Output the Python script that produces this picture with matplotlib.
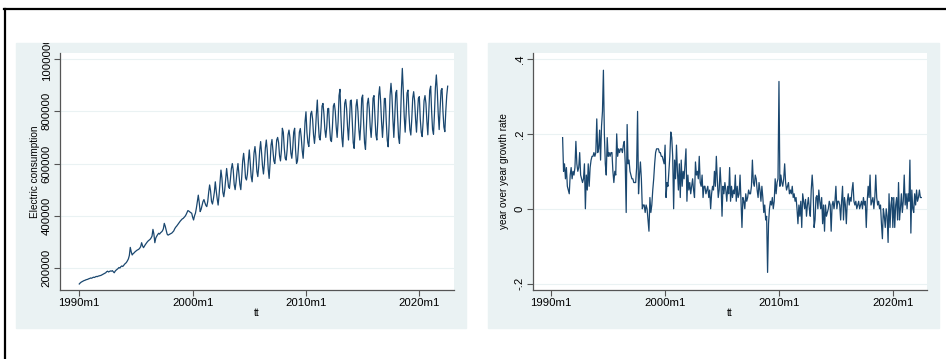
import numpy as np
import matplotlib
matplotlib.use("Agg")
import matplotlib.pyplot as plt
from matplotlib.patches import Rectangle
from matplotlib.lines import Line2D
from matplotlib.transforms import Bbox, TransformedBbox

# monthly electric consumption (thousands), 1990m1 .. 2022m7, one row per year
consumption_k = [
    139, 143, 146, 148, 150, 152, 153, 155, 156, 157, 159, 160,
    162, 161, 163, 165, 164, 166, 168, 167, 169, 170, 171, 172,
    174, 176, 178, 180, 182, 186, 188, 185, 187, 189, 188, 190,
    186, 182, 188, 192, 195, 198, 202, 200, 205, 208, 206, 210,
    215, 218, 222, 228, 235, 248, 279, 262, 250, 255, 258, 262,
    265, 268, 270, 272, 276, 282, 297, 285, 278, 284, 290, 295,
    300, 304, 307, 310, 315, 322, 348, 330, 297, 315, 322, 328,
    333, 330, 335, 338, 342, 350, 371, 360, 345, 330, 326, 328,
    330, 332, 334, 338, 342, 350, 356, 360, 365, 370, 375, 380,
    384, 388, 390, 394, 398, 404, 412, 420, 418, 415, 412, 410,
    395, 384, 400, 410, 430, 455, 479, 450, 416, 425, 440, 455,
    462, 450, 440, 435, 455, 490, 518, 495, 455, 445, 465, 490,
    530, 495, 465, 441, 480, 530, 575, 545, 490, 473, 500, 540,
    581, 545, 511, 505, 540, 580, 600, 575, 520, 500, 530, 570,
    600, 560, 520, 500, 550, 610, 639, 600, 545, 537, 560, 610,
    652, 600, 550, 530, 580, 640, 665, 630, 570, 550, 590, 650,
    684, 640, 590, 560, 600, 660, 690, 650, 580, 543, 600, 670,
    692, 650, 610, 600, 640, 690, 700, 680, 630, 610, 650, 735,
    720, 660, 620, 613, 650, 710, 728, 700, 640, 620, 660, 720,
    735, 650, 600, 610, 660, 720, 734, 700, 650, 620, 680, 760,
    798, 720, 680, 665, 720, 790, 800, 770, 710, 677, 720, 790,
    843, 760, 700, 690, 740, 820, 830, 790, 730, 700, 740, 810,
    811, 740, 690, 684, 740, 820, 830, 800, 740, 700, 760, 860,
    884, 780, 700, 664, 740, 830, 845, 810, 740, 690, 760, 840,
    843, 760, 680, 658, 730, 820, 845, 800, 730, 690, 750, 850,
    862, 760, 680, 654, 740, 830, 850, 810, 740, 700, 760, 850,
    860, 780, 710, 690, 760, 860, 894, 840, 760, 700, 760, 849,
    849, 760, 690, 664, 750, 860, 907, 860, 770, 700, 780, 870,
    880, 780, 700, 677, 760, 880, 964, 880, 780, 720, 790, 870,
    881, 790, 730, 709, 770, 850, 875, 840, 770, 720, 790, 850,
    856, 770, 720, 703, 760, 840, 860, 830, 760, 710, 800, 880,
    896, 800, 730, 712, 790, 890, 939, 880, 790, 730, 810, 880,
    887, 800, 740, 722, 800, 860, 896,
]

# year over year growth rate, 1991m1 .. 2022m7
growth = [
    0.19, 0.10, 0.12, 0.08, 0.11, 0.06, 0.05, 0.04, 0.09, 0.11, 0.08, 0.10,
    0.09, 0.11, 0.18, 0.12, 0.10, 0.11, 0.15, 0.09, 0.08, 0.07, 0.08, 0.12,
    0.00, 0.09, 0.05, 0.12, 0.06, 0.11, 0.13, 0.14, 0.14, 0.15, 0.14, 0.15,
    0.24, 0.15, 0.16, 0.21, 0.13, 0.22, 0.26, 0.37, 0.20, 0.12, 0.09, 0.19,
    0.14, 0.15, 0.14, 0.15, 0.15, 0.10, 0.07, 0.10, 0.09, 0.20, 0.14, 0.16,
    0.15, 0.16, 0.16, 0.15, 0.17, 0.18, 0.12, -0.01, 0.225, 0.12, 0.13, 0.10,
    0.09, 0.08, 0.08, 0.07, 0.07, 0.07, 0.11, 0.26, 0.04, 0.09, 0.125, 0.08,
    0.00, 0.01, 0.01, -0.01, 0.01, 0.00, -0.03, -0.06, 0.03, -0.01, 0.01, 0.05,
    0.08, 0.12, 0.15, 0.16, 0.16, 0.16, 0.15, 0.15, 0.14, 0.14, 0.13, 0.12,
    0.17, 0.03, 0.07, 0.06, 0.10, 0.14, 0.205, 0.19, 0.14, 0.00, 0.13, 0.08,
    0.17, 0.10, 0.05, 0.12, 0.03, 0.13, 0.06, 0.10, 0.08, 0.12, 0.16, 0.02,
    0.09, 0.05, 0.07, 0.04, 0.06, 0.08, 0.05, 0.03, 0.125, 0.09, 0.10, 0.08,
    0.14, 0.07, 0.06, 0.09, 0.03, 0.06, 0.06, 0.04, 0.05, 0.06, 0.03, 0.05,
    0.00, 0.04, 0.06, 0.05, 0.10, 0.06, 0.14, 0.08, 0.03, 0.05, 0.11, 0.06,
    -0.02, 0.06, 0.04, 0.07, 0.05, 0.02, 0.06, 0.04, 0.11, 0.02, 0.06, 0.03,
    0.05, 0.04, 0.09, 0.02, 0.06, 0.03, 0.04, 0.09, 0.02, -0.05, 0.03, 0.02,
    0.00, 0.04, 0.02, 0.03, 0.05, 0.04, 0.04, 0.06, 0.13, 0.07, 0.06, 0.09,
    0.08, 0.05, 0.03, 0.07, 0.05, 0.02, 0.06, 0.03, -0.01, 0.01, -0.03, -0.02,
    -0.17, -0.04, 0.00, 0.02, 0.01, 0.03, 0.00, 0.02, 0.08, 0.04, 0.07, 0.08,
    0.34, 0.06, 0.09, 0.07, 0.06, 0.08, 0.12, 0.07, 0.05, 0.06, 0.07, 0.04,
    0.05, 0.04, 0.06, 0.03, 0.04, 0.02, 0.03, 0.00, -0.04, 0.01, -0.02, 0.02,
    -0.05, 0.04, 0.02, 0.00, 0.025, -0.02, 0.01, 0.03, 0.00, -0.02, 0.05, 0.09,
    0.05, -0.05, -0.03, 0.03, 0.035, 0.00, 0.05, 0.02, 0.00, 0.03, -0.04, 0.01,
    -0.06, 0.01, -0.02, -0.01, 0.00, 0.02, 0.01, -0.06, 0.01, 0.02, 0.00, 0.02,
    0.06, 0.00, 0.02, 0.02, 0.01, -0.03, 0.02, 0.06, -0.03, 0.03, 0.01, -0.04,
    0.02, 0.04, 0.01, 0.03, 0.02, 0.05, 0.07, 0.02, 0.01, 0.02, 0.00, 0.01,
    0.02, 0.00, 0.01, 0.02, 0.00, 0.03, 0.01, 0.02, -0.05, 0.02, 0.06, 0.03,
    0.09, 0.01, 0.02, 0.03, 0.00, 0.03, 0.09, 0.03, 0.01, 0.02, 0.00, 0.01,
    -0.04, -0.08, 0.00, -0.02, -0.05, 0.00, -0.02, -0.09, 0.04, -0.05, 0.01, 0.03,
    -0.05, 0.03, -0.05, 0.01, 0.03, -0.03, 0.07, -0.03, 0.00, 0.04, -0.01, 0.02,
    0.09, 0.01, 0.04, 0.00, 0.04, 0.02, 0.13, -0.065, 0.05, 0.00, -0.01, 0.04,
    0.01, 0.05, 0.02, 0.03, 0.05, 0.03, 0.03,
]

# Stata monthly dates (months since 1960m1)
tt_level = 360 + np.arange(len(consumption_k))   # from 1990m1
tt_growth = 372 + np.arange(len(growth))         # from 1991m1
xticks = [360, 480, 600, 720]
xtick_labels = ["1990m1", "2000m1", "2010m1", "2020m1"]
yticks_level = [200000, 400000, 600000, 800000, 1000000]
yticks_growth = [-0.2, 0, 0.2, 0.4]
ytick_labels_growth = ["-.2", "0", ".2", ".4"]

plt.rcParams['font.family'] = ['Liberation Sans', 'DejaVu Sans']

W, H = 946, 359
fig = plt.figure(figsize=(W / 100, H / 100), dpi=100)
fig.patch.set_facecolor("white")

bg_color = "#EAF2F3"
line_color = "#1A476F"
axis_color = "#555555"


def fbox(x0, y0, x1, y1):
    return [x0 / W, 1 - y1 / H, (x1 - x0) / W, (y1 - y0) / H]


# outer frame (top and left edge only)
fig.add_artist(Line2D([4 / W, 1], [1 - 9 / H, 1 - 9 / H], color="black", lw=1.6,
                      transform=fig.transFigure))
fig.add_artist(Line2D([4.5 / W, 4.5 / W], [0, 1 - 9 / H], color="black", lw=1.6,
                      transform=fig.transFigure))

panels = [
    dict(bg=(16, 43, 466, 328), ax=(60, 53, 454, 290)),
    dict(bg=(488, 43, 939, 328), ax=(533, 53, 927, 290)),
]
axes = []
for p in panels:
    x0, y0, x1, y1 = p["bg"]
    fig.add_artist(Rectangle((x0 / W, 1 - y1 / H), (x1 - x0) / W, (y1 - y0) / H,
                             transform=fig.transFigure, color=bg_color, zorder=0))
    ax = fig.add_axes(fbox(*p["ax"]))
    ax.set_facecolor("white")
    for s in ["top", "right"]:
        ax.spines[s].set_visible(False)
    for s in ["left", "bottom"]:
        ax.spines[s].set_color(axis_color)
        ax.spines[s].set_linewidth(0.9)
    ax.tick_params(length=4.5, width=0.8, color=axis_color, labelsize=8.2, pad=1.5)
    ax.grid(True, axis="y", color=bg_color, lw=0.8)
    ax.set_axisbelow(True)
    axes.append(ax)

ax1, ax2 = axes

ax1.plot(tt_level, np.array(consumption_k) * 1000, color=line_color, lw=0.9)
ax1.set_xlim(339.6, 756.7)
ax1.set_ylim(116000, 1023000)
ax1.set_yticks(yticks_level)
ax1.set_yticklabels([str(v) for v in yticks_level])
ax1.set_ylabel("Electric consumption", fontsize=7.2, labelpad=1)

ax2.plot(tt_growth, growth, color=line_color, lw=0.9)
ax2.set_xlim(340.8, 756.0)
ax2.set_ylim(-0.217, 0.416)
ax2.set_yticks(yticks_growth)
ax2.set_yticklabels(ytick_labels_growth)
ax2.set_ylabel("year over year growth rate", fontsize=7.2, labelpad=4)

for ax, p in zip(axes, panels):
    ax.set_xticks(xticks)
    ax.set_xticklabels(xtick_labels)
    ax.set_xlabel("tt", fontsize=7.2, labelpad=0)
    x0, y0, x1, y1 = p["bg"]
    clip = TransformedBbox(Bbox.from_extents(x0 / W, 1 - y1 / H, x1 / W, 1 - y0 / H),
                           fig.transFigure)
    for lab in ax.get_yticklabels():
        lab.set_rotation(90)
        lab.set_verticalalignment("center")
        lab.set_clip_box(clip)
        lab.set_clip_on(True)

fig.savefig("out.png", dpi=100)
